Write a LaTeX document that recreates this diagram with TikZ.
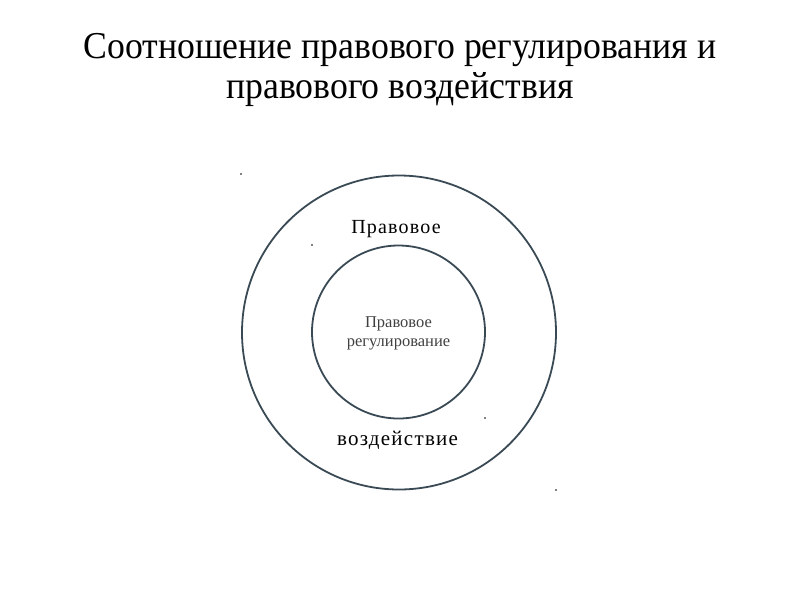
\documentclass[tikz,border=0pt]{standalone}
\usepackage{fontspec}
\setmainfont{Liberation Serif}
\newfontfamily\tnr{Liberation Serif}
\newfontfamily\tnrsp[LetterSpace=6]{Liberation Serif}
\definecolor{ring}{HTML}{3A4A55}
\begin{document}
\begin{tikzpicture}[x=1pt,y=-1pt,
  ringline/.style={draw=ring,line width=1.8pt},
  dotmark/.style={fill=black,inner sep=0pt,minimum size=1.6pt,circle},
  titletext/.style={font=\tnr\fontsize{38}{40}\selectfont,align=center,xscale=0.94},
  outerlabel/.style={font=\tnrsp\fontsize{20}{22}\selectfont,inner sep=0pt},
  innerlabel/.style={font=\tnr\fontsize{16.5}{19}\selectfont,text=black!75,align=center,inner sep=0pt}]
\useasboundingbox (0,0) rectangle (800,600);
\node[titletext,anchor=base] (t1) at (400,58) {Соотношение правового регулирования и};
\node[titletext,anchor=base] (t2) at (400,98) {правового воздействия};
\node[ringline,circle,minimum size=314pt,inner sep=0pt] (outer) at (399,332.5) {};
\node[ringline,circle,minimum size=173pt,inner sep=0pt] (inner) at (398.5,332) {};
\node[outerlabel,anchor=base] (l1) at (396,233) {Правовое};
\node[outerlabel,anchor=base,font=\tnrsp\fontsize{21}{22}\selectfont] (l2) at (397.5,445) {воздействие};
\node[innerlabel,anchor=base] (l3) at (398.5,346) {Правовое\\регулирование};
\node[dotmark] (d1) at (241,174) {};
\node[dotmark] (d2) at (312,245) {};
\node[dotmark] (d3) at (485,418) {};
\node[dotmark] (d4) at (556,490) {};
\end{tikzpicture}
\end{document}
